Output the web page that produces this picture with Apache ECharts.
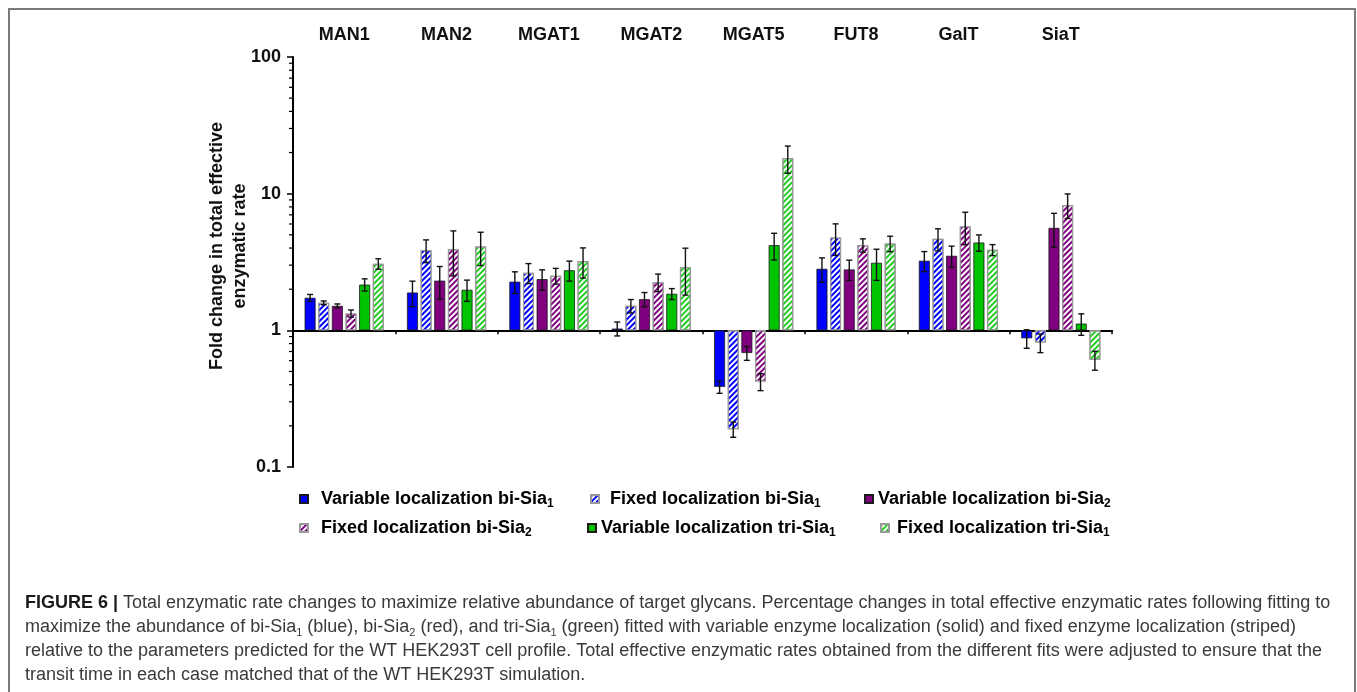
<!DOCTYPE html>
<html>
<head>
<meta charset="utf-8">
<script src="https://cdn.jsdelivr.net/npm/echarts@6/dist/echarts.min.js"></script>
<style>
  html, body { margin: 0; padding: 0; background: #ffffff; }
  #chart { width: 1357px; height: 692px; }
</style>
</head>
<body>
<div id="chart"></div>
<script>
// Enzymes (one group of bars each)
const enzymes = ['MAN1', 'MAN2', 'MGAT1', 'MGAT2', 'MGAT5', 'FUT8', 'GalT', 'SiaT'];

// Fold change in total effective enzymatic rate, per fit
const varBiSia1  = [1.73, 1.89, 2.27, 1.03, 0.386, 2.82, 3.23, 0.874];
const fixBiSia1  = [1.59, 3.86, 2.64, 1.51, 0.189, 4.77, 4.67, 0.813];
const varBiSia2  = [1.51, 2.31, 2.37, 1.69, 0.683, 2.79, 3.51, 5.62];
const fixBiSia2  = [1.33, 3.92, 2.51, 2.25, 0.422, 4.20, 5.77, 8.27];
const varTriSia1 = [2.16, 1.98, 2.75, 1.85, 4.20, 3.12, 4.39, 1.12];
const fixTriSia1 = [3.07, 4.10, 3.21, 2.90, 18.2, 4.32, 3.88, 0.607];

// Error bars (± fold change)
const errVarBiSia1  = [0.10, 0.40, 0.41, 0.12, 0.040, 0.57, 0.54, 0.135];
const errFixBiSia1  = [0.05, 0.73, 0.44, 0.17, 0.024, 1.24, 0.86, 0.126];
const errVarBiSia2  = [0.05, 0.62, 0.40, 0.20, 0.080, 0.47, 0.62, 1.56];
const errFixBiSia2  = [0.08, 1.42, 0.33, 0.33, 0.060, 0.47, 1.54, 1.68];
const errVarTriSia1 = [0.22, 0.35, 0.46, 0.17, 0.93, 0.80, 0.60, 0.20];
const errFixTriSia1 = [0.27, 1.12, 0.80, 1.09, 4.10, 0.56, 0.36, 0.096];

// Series labels: [text, subscript]
const seriesLabels = [
  ['Variable localization bi-Sia', '1'],
  ['Fixed localization bi-Sia', '1'],
  ['Variable localization bi-Sia', '2'],
  ['Fixed localization bi-Sia', '2'],
  ['Variable localization tri-Sia', '1'],
  ['Fixed localization tri-Sia', '1']
];

// Y axis range and decades
const yMin = 0.1, yMax = 100;
const yDecades = [0.1, 1, 10];

const values = [varBiSia1, fixBiSia1, varBiSia2, fixBiSia2, varTriSia1, fixTriSia1];
const errors = [errVarBiSia1, errFixBiSia1, errVarBiSia2, errFixBiSia2, errVarTriSia1, errFixTriSia1];

// ---- layout / style ----
const FONT = '"Liberation Sans", Arial, Helvetica, sans-serif';
const GRID = { left: 293, top: 57, width: 819, height: 410 };
const BAR_W = 11, BAR_GAP = 2.64;
const BAR_STEP = BAR_W + BAR_GAP;
const BLUE = '#0000ff', PURPLE = '#800080', GREEN = '#00c400', GREEN_STRIPE = '#22cc22';

function solidStyle(color) {
  return { color: color, borderColor: '#1a1a1a', borderWidth: 0.8 };
}
function stripedStyle(color) {
  return {
    color: '#ffffff', borderColor: '#9a9a9a', borderWidth: 1.2,
    decal: { symbol: 'rect', symbolSize: 1, dashArrayX: [1, 0], dashArrayY: [1.7, 1.9],
             rotation: -Math.PI / 4, color: color }
  };
}
const styles = [solidStyle(BLUE), stripedStyle(BLUE), solidStyle(PURPLE),
                stripedStyle(PURPLE), solidStyle(GREEN), stripedStyle(GREEN_STRIPE)];

const names = seriesLabels.map(l => l[0] + l[1]);

// distance from grid top to the line at fold change = 1
const oneOffset = GRID.height * (Math.log10(yMax) - 0) / (Math.log10(yMax) - Math.log10(yMin));

const barSeries = values.map((vals, s) => ({
  name: names[s],
  type: 'bar',
  xAxisIndex: 0,
  yAxisIndex: 0,
  barWidth: BAR_W,
  barGap: (BAR_GAP / BAR_W * 100).toFixed(1) + '%',
  itemStyle: styles[s],
  data: vals,
  z: 2
}));

const errRows = [];
values.forEach((vals, s) => vals.forEach((v, c) => errRows.push([c, v, errors[s][c], s])));

const errorSeries = {
  type: 'custom',
  xAxisIndex: 0, yAxisIndex: 0,
  silent: true,
  z: 5,
  encode: { x: 0, y: 1 },
  data: errRows,
  renderItem: function (params, api) {
    const c = api.value(0), v = api.value(1), e = api.value(2), s = api.value(3);
    const hi = api.coord([c, v + e]);
    const lo = api.coord([c, v - e]);
    const x = hi[0] + (s - 2.5) * BAR_STEP;
    const st = { stroke: '#111111', lineWidth: 1.4 };
    return {
      type: 'group',
      children: [
        { type: 'line', shape: { x1: x, y1: hi[1], x2: x, y2: lo[1] }, style: st },
        { type: 'line', shape: { x1: x - 3, y1: hi[1], x2: x + 3, y2: hi[1] }, style: st },
        { type: 'line', shape: { x1: x - 3, y1: lo[1], x2: x + 3, y2: lo[1] }, style: st }
      ]
    };
  }
};

// minor ticks of the log axis at 2..9 of each decade
const minorTickRows = [];
yDecades.forEach(d => { for (let k = 2; k <= 9; k++) minorTickRows.push([0, d * k]); });

const minorTickSeries = {
  type: 'custom',
  xAxisIndex: 0, yAxisIndex: 0,
  silent: true,
  z: 6,
  encode: { x: 0, y: 1 },
  data: minorTickRows,
  renderItem: function (params, api) {
    const p = api.coord([0, api.value(1)]);
    const x = p[0] - api.size([1, 0])[0] / 2;
    return { type: 'line', shape: { x1: x - 4, y1: p[1], x2: x, y2: p[1] },
             style: { stroke: '#000000', lineWidth: 1.2 } };
  }
};

// legend placement: [icon left, row top, text padding-left]
const legendPlaces = [
  [299, 490, 8], [590, 490, 6], [864, 490, 0],
  [299, 519, 8], [587, 519, 0], [880, 519, 3]
];
const legends = legendPlaces.map((p, i) => ({
  data: [names[i]],
  left: p[0], top: p[1],
  padding: 0,
  icon: 'rect',
  itemWidth: 8, itemHeight: 8,
  selectedMode: false,
  formatter: () => '{t|' + seriesLabels[i][0] + '}{s|' + seriesLabels[i][1] + '}',
  textStyle: {
    padding: [0, 0, 0, p[2]],
    rich: {
      t: { fontFamily: FONT, fontWeight: 'bold', fontSize: 18, color: '#000', lineHeight: 22 },
      s: { fontFamily: FONT, fontWeight: 'bold', fontSize: 12, color: '#000', lineHeight: 12, verticalAlign: 'bottom' }
    }
  }
}));

// caption lines
const capRich = {
  b: { fontFamily: FONT, fontWeight: 'bold', fontSize: 18, fill: '#1a1a1a', lineHeight: 22 },
  n: { fontFamily: FONT, fontSize: 18, fill: '#3a3a3a', lineHeight: 22 },
  s: { fontFamily: FONT, fontSize: 11, fill: '#3a3a3a', lineHeight: 11, verticalAlign: 'bottom' }
};
const captionLines = [
  '{b|FIGURE 6 |}{n| Total enzymatic rate changes to maximize relative abundance of target glycans. Percentage changes in total effective enzymatic rates following fitting to}',
  '{n|maximize the abundance of bi-Sia}{s|1}{n| (blue), bi-Sia}{s|2}{n| (red), and tri-Sia}{s|1}{n| (green) fitted with variable enzyme localization (solid) and fixed enzyme localization (striped)}',
  '{n|relative to the parameters predicted for the WT HEK293T cell profile. Total effective enzymatic rates obtained from the different fits were adjusted to ensure that the}',
  '{n|transit time in each case matched that of the WT HEK293T simulation.}'
];
const captionY = [603, 627, 651, 675];

const graphics = [
  { type: 'polyline', silent: true,
    shape: { points: [[9, 692], [9, 9], [1355, 9], [1355, 692]] },
    style: { stroke: '#7a7a7a', lineWidth: 2, fill: null } },
  { type: 'text', silent: true, x: 229, y: 246, rotation: Math.PI / 2,
    style: { text: 'Fold change in total effective\nenzymatic rate', font: 'bold 18px ' + FONT,
             fill: '#111', align: 'center', verticalAlign: 'middle', lineHeight: 23 } }
].concat(captionLines.map((t, i) => ({
  type: 'text', silent: true, x: 25, y: captionY[i],
  style: { text: t, rich: capRich, align: 'left', verticalAlign: 'middle', font: '18px ' + FONT }
})));

const chart = echarts.init(document.getElementById('chart'), null, { renderer: 'canvas' });
chart.setOption({
  animation: false,
  backgroundColor: '#ffffff',
  textStyle: { fontFamily: FONT },
  grid: Object.assign({ containLabel: false }, GRID),
  legend: legends,
  xAxis: [
    { type: 'category', position: 'top', data: enzymes,
      axisLine: { show: false, onZero: false }, axisTick: { show: false },
      axisLabel: { margin: 13, fontFamily: FONT, fontWeight: 'bold', fontSize: 18, color: '#111', interval: 0 },
      splitLine: { show: false } },
    { type: 'category', position: 'top', offset: -oneOffset, data: enzymes,
      axisLine: { show: true, onZero: false, lineStyle: { color: '#000', width: 2 } },
      axisTick: { show: true, inside: true, length: 4, lineStyle: { color: '#000', width: 1.5 } },
      axisLabel: { show: false }, splitLine: { show: false } }
  ],
  yAxis: {
    type: 'log', logBase: 10, min: yMin, max: yMax,
    axisLine: { show: true, lineStyle: { color: '#000', width: 2 } },
    axisTick: { show: true, length: 6, lineStyle: { color: '#000', width: 1.5 } },
    axisLabel: { margin: 12, fontFamily: FONT, fontWeight: 'bold', fontSize: 18, color: '#111' },
    splitLine: { show: false }
  },
  series: barSeries.concat([errorSeries, minorTickSeries]),
  graphic: graphics
});
</script>
</body>
</html>
